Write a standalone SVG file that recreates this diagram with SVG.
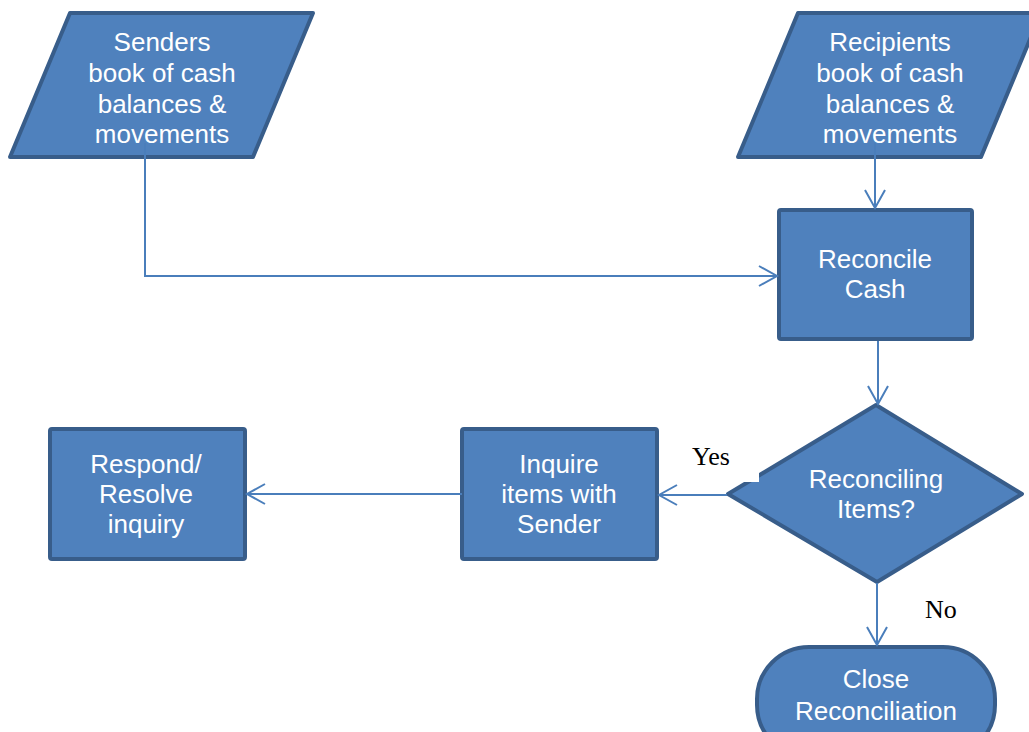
<svg xmlns="http://www.w3.org/2000/svg" width="1029" height="732" viewBox="0 0 1029 732">
<style>
.shape{fill:#4F81BD;stroke:#385D8A;stroke-width:4;stroke-linejoin:round}
.lbl{font-family:"Liberation Sans",Arial,sans-serif;font-size:26px;fill:#FFFFFF;text-anchor:middle}
.edge{fill:none;stroke:#4A7EBB;stroke-width:2}
.tag{font-family:"Liberation Serif","Times New Roman",serif;font-size:26px;fill:#000000}
</style>
<defs>
<marker id="arr" markerUnits="userSpaceOnUse" markerWidth="22" markerHeight="24" refX="19" refY="11" orient="auto">
<path d="M1,1 L19,11 L1,21" fill="none" stroke="#4A7EBB" stroke-width="2"/>
</marker>
</defs>
<rect width="1029" height="732" fill="#FFFFFF"/>
<g id="senders">
<polygon class="shape" points="70,13 313,13 253,157 10,157"/>
<text class="lbl" x="162" y="51">Senders</text>
<text class="lbl" x="162" y="82">book of cash</text>
<text class="lbl" x="162" y="113">balances &amp;</text>
<text class="lbl" x="162" y="143">movements</text>
</g>
<g id="recipients">
<polygon class="shape" points="798,13 1041,13 981,157 738,157"/>
<text class="lbl" x="890" y="51">Recipients</text>
<text class="lbl" x="890" y="82">book of cash</text>
<text class="lbl" x="890" y="113">balances &amp;</text>
<text class="lbl" x="890" y="143">movements</text>
</g>
<g id="reconcile">
<rect class="shape" x="779" y="210" width="193" height="129" rx="2"/>
<text class="lbl" x="875" y="268">Reconcile</text>
<text class="lbl" x="875" y="298">Cash</text>
</g>
<g id="decision">
<polygon class="shape" points="876,405 1022,494 877,582 728,494"/>
<text class="lbl" x="876" y="488">Reconciling</text>
<text class="lbl" x="876" y="518">Items?</text>
</g>
<g id="inquire">
<rect class="shape" x="462" y="429" width="195" height="130" rx="2"/>
<text class="lbl" x="559" y="473">Inquire</text>
<text class="lbl" x="559" y="503">items with</text>
<text class="lbl" x="559" y="533">Sender</text>
</g>
<g id="respond">
<rect class="shape" x="50" y="429" width="195" height="130" rx="2"/>
<text class="lbl" x="146" y="473">Respond/</text>
<text class="lbl" x="146" y="503">Resolve</text>
<text class="lbl" x="146" y="533">inquiry</text>
</g>
<g id="close">
<rect class="shape" x="757" y="647" width="238" height="110" rx="52"/>
<text class="lbl" x="876" y="688">Close</text>
<text class="lbl" x="876" y="720">Reconciliation</text>
</g>
<g id="connectors">
<polyline class="edge" points="145,143 145,276 777,276" marker-end="url(#arr)"/>
<line class="edge" x1="875" y1="143" x2="875" y2="208" marker-end="url(#arr)"/>
<line class="edge" x1="878" y1="341" x2="878" y2="404" marker-end="url(#arr)"/>
<line class="edge" x1="727" y1="495" x2="659" y2="495" marker-end="url(#arr)"/>
<line class="edge" x1="462" y1="494" x2="247" y2="494" marker-end="url(#arr)"/>
<line class="edge" x1="877" y1="583" x2="877" y2="645" marker-end="url(#arr)"/>
</g>
<g id="labels">
<rect x="686" y="440" width="73" height="42" fill="#FFFFFF"/>
<text class="tag" x="692" y="465">Yes</text>
<text class="tag" x="925" y="618">No</text>
</g>
</svg>
